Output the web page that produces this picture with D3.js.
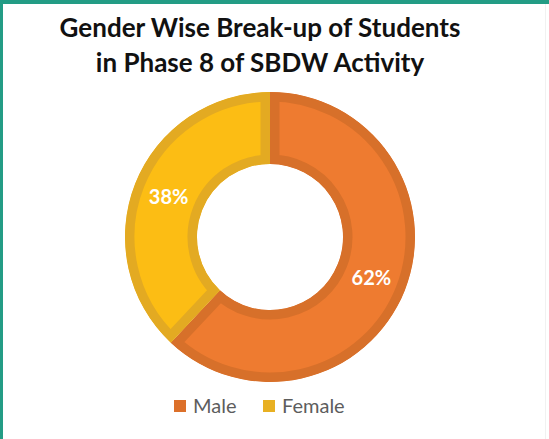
<!DOCTYPE html>
<html>
<head>
<meta charset="utf-8">
<script src="https://cdn.jsdelivr.net/npm/d3@7"></script>
<style>
  html, body { margin: 0; padding: 0; background: #fff; }
  #chart { width: 549px; height: 439px; }
</style>
</head>
<body>
<div id="chart"></div>
<script>
const categories = ["Male", "Female"];
const values = [62, 38];
const titleLines = ["Gender Wise Break-up of Students", "in Phase 8 of SBDW Activity"];

const fills = ["#ee7b30", "#fcbd14"];
const borders = ["#d7702a", "#e3aa22"];
const keyColors = ["#dc702a", "#e8b022"];

const width = 549, height = 439;
const cx = 270, cy = 237;
const outer = 145, inner = 73;

const svg = d3.select("#chart")
              .append("svg")
              .attr("width", width)
              .attr("height", height);

// frame
svg.append("rect").attr("x", 0).attr("y", 0).attr("width", width).attr("height", 4).attr("fill", "#239c85");
svg.append("rect").attr("x", 0).attr("y", 0).attr("width", 3).attr("height", height).attr("fill", "#239c85");
svg.append("rect").attr("x", 545).attr("y", 4).attr("width", 1).attr("height", height).attr("fill", "#f1f1f1");

// title
svg.selectAll("text.title")
   .data(titleLines)
   .enter()
   .append("text")
   .attr("class", "title")
   .attr("x", 260)
   .attr("y", (d, i) => 37 + i * 35)
   .attr("text-anchor", "middle")
   .style("font-family", "Lato, 'Open Sans', sans-serif")
   .style("font-weight", "bold")
   .style("font-size", "26px")
   .style("fill", "#111")
   .text((d) => d);

const pie = d3.pie().sort(null).value((d) => d.value);
const data = pie(categories.map((c, i) => ({ name: c, value: values[i], i: i })));
const arc = d3.arc().innerRadius(inner).outerRadius(outer);
const labelArc = d3.arc().innerRadius((inner + outer) / 2).outerRadius((inner + outer) / 2);

const g = svg.append("g").attr("transform", "translate(" + cx + "," + cy + ")");

const defs = svg.append("defs");
defs.selectAll("clipPath")
    .data(data)
    .enter()
    .append("clipPath")
    .attr("id", (d) => "clip" + d.data.i)
    .append("path")
    .attr("d", arc);

g.selectAll("path.slice")
 .data(data)
 .enter()
 .append("path")
 .attr("class", "slice")
 .attr("d", arc)
 .attr("fill", (d) => fills[d.data.i])
 .attr("stroke", (d) => borders[d.data.i])
 .attr("stroke-width", 19)
 .attr("stroke-linejoin", "miter")
 .attr("clip-path", (d) => "url(#clip" + d.data.i + ")");

g.selectAll("text.pct")
 .data(data)
 .enter()
 .append("text")
 .attr("class", "pct")
 .attr("transform", (d) => "translate(" + labelArc.centroid(d) + ")")
 .attr("dy", "0.38em")
 .attr("text-anchor", "middle")
 .style("font-family", "Lato, 'Open Sans', sans-serif")
 .style("font-weight", "bold")
 .style("font-size", "20px")
 .style("fill", "#fff")
 .text((d) => d.data.value + "%");

// legend
const legendX = [174, 263];
const legend = svg.selectAll("g.legend")
                  .data(categories)
                  .enter()
                  .append("g")
                  .attr("class", "legend")
                  .attr("transform", (d, i) => "translate(" + legendX[i] + ",400)");
legend.append("rect")
      .attr("width", 12)
      .attr("height", 12)
      .attr("fill", (d, i) => keyColors[i]);
legend.append("text")
      .attr("x", 19)
      .attr("y", 13)
      .style("font-family", "Lato, 'Open Sans', sans-serif")
      .style("font-size", "20px")
      .style("fill", "#5d5d5d")
      .text((d) => d);
</script>
</body>
</html>
